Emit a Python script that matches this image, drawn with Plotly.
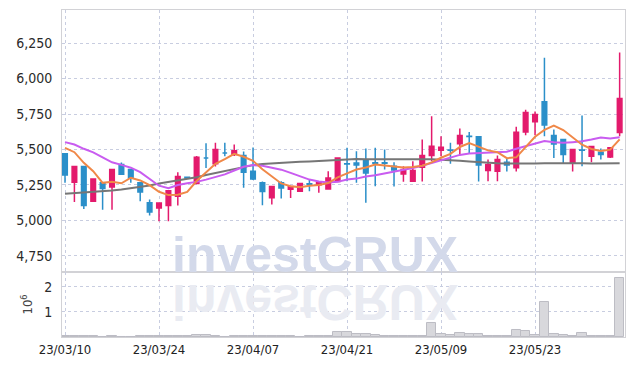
import plotly.graph_objects as go
from plotly.subplots import make_subplots

dates = ["23/03/10",
         "23/03/13", "23/03/14", "23/03/15", "23/03/16", "23/03/17",
         "23/03/20", "23/03/21", "23/03/22", "23/03/23", "23/03/24",
         "23/03/27", "23/03/28", "23/03/29", "23/03/30", "23/03/31",
         "23/04/03", "23/04/04", "23/04/05", "23/04/06", "23/04/07",
         "23/04/10", "23/04/11", "23/04/12", "23/04/13", "23/04/14",
         "23/04/17", "23/04/18", "23/04/19", "23/04/20", "23/04/21",
         "23/04/24", "23/04/25", "23/04/26", "23/04/27", "23/04/28",
         "23/05/02", "23/05/03", "23/05/04", "23/05/08", "23/05/09",
         "23/05/10", "23/05/11", "23/05/12", "23/05/15", "23/05/16",
         "23/05/17", "23/05/18", "23/05/19", "23/05/22", "23/05/23",
         "23/05/24", "23/05/25", "23/05/26", "23/05/30", "23/05/31",
         "23/06/01", "23/06/02", "23/06/05", "23/06/07"]

opens = [5470, 5270, 5380, 5135, 5265, 5235, 5395, 5360, 5265, 5125,
         5088, 5105, 5170, 5305, 5260, 5440, 5400, 5475, 5465, 5458,
         5347, 5265, 5160, 5265, 5220, 5206, 5258, 5252, 5222, 5275,
         5400, 5405, 5425, 5406, 5406, 5382, 5327, 5276, 5375, 5458,
         5495, 5497, 5540, 5594, 5590, 5352, 5347, 5410, 5371, 5624,
         5695, 5837, 5599, 5570, 5405, 5497, 5453, 5480, 5448, 5620]
highs = [5475, 5385, 5385, 5295, 5270, 5362, 5408, 5362, 5268, 5147,
         5126, 5212, 5340, 5310, 5455, 5545, 5547, 5547, 5535, 5486,
         5515, 5275, 5242, 5276, 5243, 5265, 5288, 5268, 5347, 5445,
         5512, 5488, 5508, 5512, 5500, 5410, 5382, 5418, 5570, 5735,
         5594, 5547, 5648, 5623, 5592, 5430, 5458, 5440, 5660, 5780,
         5767, 6147, 5641, 5576, 5505, 5740, 5525, 5507, 5516, 6183]
lows = [5265, 5130, 5080, 5130, 5075, 5075, 5320, 5265, 5135, 5035,
        4995, 4995, 5105, 5295, 5255, 5370, 5380, 5453, 5455, 5230,
        5285, 5108, 5112, 5155, 5158, 5200, 5206, 5195, 5220, 5270,
        5276, 5265, 5125, 5241, 5359, 5240, 5272, 5272, 5275, 5418,
        5453, 5400, 5462, 5475, 5275, 5276, 5276, 5345, 5345, 5600,
        5600, 5594, 5441, 5400, 5345, 5382, 5410, 5430, 5440, 5594]
closes = [5320, 5380, 5105, 5293, 5225, 5360, 5325, 5300, 5200, 5060,
          5124, 5210, 5310, 5300, 5445, 5440, 5500, 5475, 5492, 5340,
          5292, 5205, 5240, 5228, 5240, 5260, 5255, 5265, 5300, 5441,
          5398, 5390, 5335, 5404, 5404, 5355, 5359, 5352, 5458, 5523,
          5516, 5495, 5599, 5592, 5390, 5394, 5429, 5390, 5622, 5760,
          5747, 5672, 5539, 5465, 5500, 5495, 5521, 5465, 5512, 5860]

ma5 = [5512, 5481, 5406, 5347, 5265, 5273, 5262, 5301, 5282, 5249,
       5202, 5179, 5181, 5201, 5278, 5341, 5399, 5432, 5470, 5449,
       5420, 5361, 5314, 5261, 5241, 5235, 5245, 5250, 5264, 5304,
       5332, 5359, 5373, 5394, 5387, 5379, 5373, 5376, 5386, 5409,
       5442, 5469, 5518, 5545, 5518, 5494, 5481, 5439, 5445, 5519,
       5590, 5638, 5668, 5637, 5585, 5534, 5504, 5489, 5499, 5571]
ma20 = [5552, 5535, 5505, 5480, 5445, 5410, 5392, 5372, 5340, 5295,
        5245, 5228, 5250, 5262, 5272, 5288, 5305, 5325, 5352, 5378,
        5390, 5385, 5372, 5358, 5335, 5310, 5288, 5274, 5268, 5272,
        5288, 5295, 5310, 5318, 5330, 5345, 5358, 5370, 5385, 5405,
        5420, 5440, 5462, 5472, 5474, 5475, 5480, 5484, 5505, 5525,
        5545, 5560, 5552, 5547, 5552, 5558, 5570, 5585, 5578, 5587]
ma60 = [5188, 5192, 5196, 5200, 5205, 5211, 5218, 5226, 5235, 5246,
        5260, 5270, 5280, 5292, 5305, 5320, 5335, 5350, 5365, 5378,
        5390, 5398, 5403, 5407, 5410, 5413, 5416, 5420, 5425, 5430,
        5432, 5433, 5432, 5431, 5430, 5430, 5430, 5430, 5431, 5431,
        5429, 5426, 5420, 5415, 5410, 5406, 5403, 5401, 5400, 5400,
        5402, 5404, 5405, 5404, 5404, 5403, 5402, 5401, 5402, 5404]

volume = [40000, 30000, 50000, 40000, 20000, 30000, 20000, 20000, 30000, 40000,
          30000, 40000, 50000, 30000, 90000, 80000, 30000, 20000, 30000, 60000,
          40000, 30000, 30000, 40000, 30000, 20000, 30000, 40000, 60000, 200000,
          200000, 120000, 120000, 80000, 40000, 30000, 30000, 40000, 40000, 550000,
          120000, 80000, 170000, 120000, 120000, 40000, 40000, 30000, 280000, 240000,
          80000, 1390000, 120000, 80000, 40000, 160000, 30000, 30000, 30000, 2350000]

price_ticks = [4750, 5000, 5250, 5500, 5750, 6000, 6250]
vol_ticks = [1000000, 2000000]
vol_tick_text = ["1", "2"]
x_ticks = [dates[i] for i in range(0, 60, 10)]

UP = "#e31a6c"
DOWN = "#2b8fc9"
GRID = "#c8cde0"
FRAME = "#d2d2d6"
FONT = "DejaVu Sans Condensed, Liberation Sans Narrow, Roboto, sans-serif"

fig = make_subplots(rows=2, cols=1, shared_xaxes=True, vertical_spacing=0,
                    row_heights=[0.8012, 0.1988])

fig.add_trace(go.Candlestick(
    x=dates, open=opens, high=highs, low=lows, close=closes,
    increasing=dict(line=dict(color=UP, width=1.5), fillcolor=UP),
    decreasing=dict(line=dict(color=DOWN, width=1.5), fillcolor=DOWN),
    whiskerwidth=0, hoverinfo="skip"), row=1, col=1)

fig.add_trace(go.Scatter(x=dates, y=ma60, mode="lines",
                         line=dict(color="#767676", width=2)), row=1, col=1)
fig.add_trace(go.Scatter(x=dates, y=ma20, mode="lines",
                         line=dict(color="#c95cf0", width=2)), row=1, col=1)
fig.add_trace(go.Scatter(x=dates, y=ma5, mode="lines",
                         line=dict(color="#f08848", width=2)), row=1, col=1)

fig.add_trace(go.Bar(x=dates, y=volume,
                     marker=dict(color="#d8d8dc", line=dict(color="#bdbdc4", width=1))),
              row=2, col=1)

xcommon = dict(type="category", range=[-0.32, 59.57], tickvals=x_ticks,
               showgrid=True, gridcolor=GRID, griddash="dot", gridwidth=1,
               showline=True, mirror=True, linecolor=FRAME, linewidth=1,
               ticks="", zeroline=False, automargin=False,
               rangeslider=dict(visible=False))

fig.update_layout(
    width=634, height=366,
    margin=dict(l=62, r=9, t=10, b=29),
    paper_bgcolor="white", plot_bgcolor="white",
    showlegend=False, bargap=0,
    font=dict(family=FONT, size=14, color="#2a2a2a"),
    xaxis=dict(showticklabels=False, **xcommon),
    xaxis2=dict(showticklabels=True, tickfont=dict(family=FONT, size=13, color="#222222"),
                **xcommon),
    yaxis=dict(range=[4637, 6483], tickvals=price_ticks, tickformat=",",
               showgrid=True, gridcolor=GRID, griddash="dot", zeroline=False,
               showline=True, mirror=True, linecolor=FRAME, ticks="",
               ticklabelstandoff=6, automargin=False,
               tickfont=dict(family=FONT, size=14, color="#2a2a2a")),
    yaxis2=dict(range=[0, 2600000], tickvals=vol_ticks, ticktext=vol_tick_text,
                showgrid=True, gridcolor=GRID, griddash="dot", zeroline=False,
                showline=True, mirror=True, linecolor=FRAME, ticks="",
                ticklabelstandoff=6, automargin=False,
                tickfont=dict(family=FONT, size=14, color="#2a2a2a"),
                title=dict(text="10<sup>6</sup>", standoff=8,
                           font=dict(family=FONT, size=13, color="#444444"))),
    annotations=[
        dict(text="investCRUX", xref="paper", yref="paper", x=0.449, y=0.2508,
             xanchor="center", yanchor="middle", showarrow=False,
             font=dict(family="Liberation Sans, Arial, sans-serif", size=50,
                       color="#d3d9ea", weight="bold")),
        dict(text="investCRUX", xref="paper", yref="paper", x=0.449, y=0.108,
             xanchor="center", yanchor="middle", showarrow=False,
             font=dict(family="Liberation Sans, Arial, sans-serif", size=50,
                       color="#e9ebf2", weight="bold")),
    ],
)

post = ("document.body.style.margin='0';"
        "var gd=document.getElementById('{plot_id}');"
        "var t=gd.querySelector('.annotation[data-index=\"1\"] text');"
        "if(t){t.style.transformBox='fill-box';t.style.transformOrigin='center';"
        "t.style.transform='scaleY(-1)';}")

fig.write_html("out.html", post_script=post, config={"displayModeBar": False})
